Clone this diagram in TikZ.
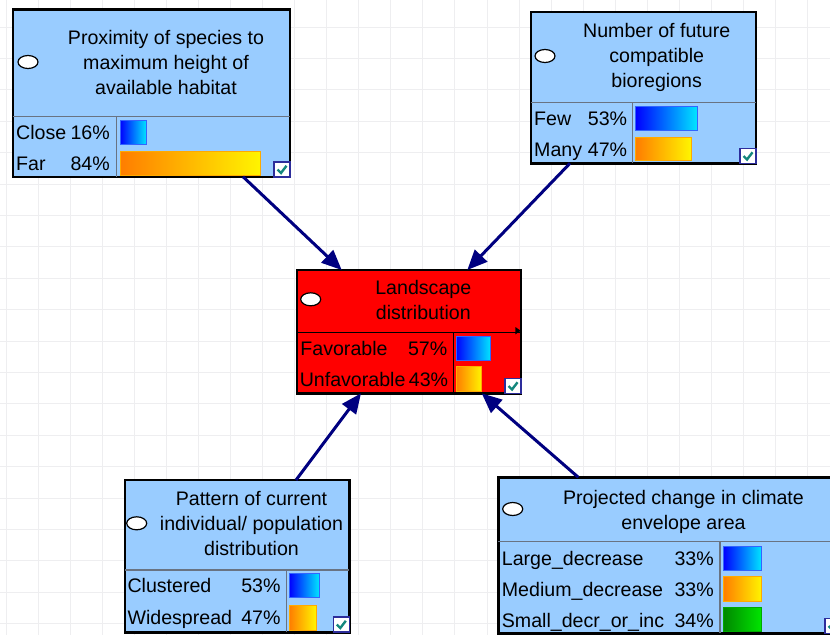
\documentclass[tikz,border=0pt]{standalone}
\usepackage{fontspec}
\setmainfont{Liberation Sans}
\usetikzlibrary{arrows.meta,calc}

\definecolor{boxblue}{RGB}{153,204,255}
\definecolor{netred}{RGB}{255,0,0}
\definecolor{linknavy}{RGB}{0,0,128}
\definecolor{gridgray}{RGB}{238,238,240}
\definecolor{sepgray}{RGB}{105,115,130}
\definecolor{checkteal}{RGB}{20,135,125}
\definecolor{checkedge}{RGB}{45,45,155}
\definecolor{blueL}{RGB}{0,0,255}
\definecolor{blueR}{RGB}{0,230,255}
\definecolor{blueEdge}{RGB}{50,100,255}
\definecolor{orangeL}{RGB}{255,125,0}
\definecolor{orangeR}{RGB}{255,245,0}
\definecolor{orangeEdge}{RGB}{255,170,0}
\definecolor{greenL}{RGB}{0,135,0}
\definecolor{greenR}{RGB}{0,230,0}
\definecolor{greenEdge}{RGB}{0,170,0}

\tikzset{
  netbox/.style={draw=black, line width=2.4pt, fill=boxblue, rectangle,
    inner sep=0pt, outer sep=0pt, anchor=north west},
  title/.style={anchor=north, align=center, inner sep=0pt},
  lbl/.style={anchor=base west, inner sep=0pt},
  pct/.style={anchor=base east, inner sep=0pt},
  divider/.style={draw=sepgray, line width=1.1pt},
  knob/.style={draw=black, fill=white, line width=1.2pt},
  bluebar/.style={left color=blueL, right color=blueR, draw=blueEdge, line width=0.8pt},
  orangebar/.style={left color=orangeL, right color=orangeR, draw=orangeEdge, line width=0.8pt},
  greenbar/.style={left color=greenL, right color=greenR, draw=greenEdge, line width=0.8pt},
  gridline/.style={draw=gridgray, line width=1pt},
  link/.style={draw=linknavy, line width=3pt, -{Triangle[length=20pt,width=17pt]}},
  tickbox/.pic={
    \draw[checkedge, fill=white, line width=1.3pt] (0,0) rectangle (16,15);
    \draw[checkteal, line width=2.4pt] (3.5,7.5) -- (7,11) -- (12.5,3.8);
  }
}

\newcommand{\ttl}{\rule{0pt}{17pt}}

\begin{document}
\begin{tikzpicture}[x=1pt, y=-1pt, font=\fontsize{19.6}{25}\selectfont]
  % canvas and grid
  \path[use as bounding box, fill=white] (0,0) rectangle (830,635);
  \clip (0,0) rectangle (830,635);
  \foreach \i in {0,...,25} {\draw[gridline] ({6+32.07*\i},0) -- ({6+32.07*\i},635);}
  \foreach \j in {0,...,19} {\draw[gridline] (0,{27+31.4*\j}) -- (830,{27+31.4*\j});}

  % ---- Proximity of species ----
  \node[netbox, minimum width=277.3pt, minimum height=167.4pt] (prox) at (12.7,9.3) {};
  \draw[divider] (12.7,116.7) -- (290,116.7);
  \draw[divider] (116.7,116.7) -- (116.7,176.7);
  \draw[knob] (28,62) ellipse [x radius=10pt, y radius=6.5pt];
  \node[title] (proxT) at (166,27) {\ttl Proximity of species to\\maximum height of\\available habitat};
  \node[lbl] (proxA) at (16,139.3) {Close};
  \node[pct] (proxAp) at (110,139.3) {16\%};
  \node[lbl] (proxB) at (16,170.6) {Far};
  \node[pct] (proxBp) at (110,170.6) {84\%};
  \shadedraw[bluebar] (120,120) rectangle (146.7,144);
  \shadedraw[orangebar] (120,151.7) rectangle (260.7,175);
  \pic at (274,162) {tickbox};

  % ---- Number of future compatible bioregions ----
  \node[netbox, minimum width=225.3pt, minimum height=151.6pt] (num) at (530.7,11.7) {};
  \draw[divider] (530.7,102.7) -- (756,102.7);
  \draw[divider] (632.7,102.7) -- (632.7,163.3);
  \draw[knob] (545,56) ellipse [x radius=10pt, y radius=6.5pt];
  \node[title] (numT) at (656.7,20.5) {\ttl Number of future\\compatible\\bioregions};
  \node[lbl] (numA) at (534,125.5) {Few};
  \node[pct] (numAp) at (627.3,125.5) {53\%};
  \node[lbl] (numB) at (534,156.3) {Many};
  \node[pct] (numBp) at (627.3,156.3) {47\%};
  \shadedraw[bluebar] (635.7,106) rectangle (697.3,130);
  \shadedraw[orangebar] (635.7,137.3) rectangle (691,160.7);
  \pic at (740,148.5) {tickbox};

  % ---- Landscape distribution ----
  \node[netbox, fill=netred, minimum width=224pt, minimum height=123.3pt] (land) at (296.7,270) {};
  \draw[black, line width=1pt] (296.7,332.3) -- (520.7,332.3);
  \draw[black, line width=1pt] (453.3,332.3) -- (453.3,393.3);
  \fill[black] (515.3,327) -- (520.7,330.7) -- (515.3,334.4) -- cycle;
  \draw[knob] (310.7,299.3) ellipse [x radius=10pt, y radius=6.5pt];
  \node[title] (landT) at (423.3,277.3) {\ttl Landscape\\distribution};
  \node[lbl] (landA) at (300.2,355.3) {Favorable};
  \node[pct] (landAp) at (447.5,355.3) {57\%};
  \node[lbl] (landB) at (299.6,386.3) {Unfavorable};
  \node[pct] (landBp) at (448.3,386.3) {43\%};
  \shadedraw[bluebar] (456,336) rectangle (490.7,360);
  \shadedraw[orangebar] (456,366.7) rectangle (481.7,391.7);
  \pic at (505,378.5) {tickbox};

  % ---- Pattern of current individual/ population distribution ----
  \node[netbox, minimum width=224.3pt, minimum height=152.3pt] (pat) at (125,480) {};
  \draw[divider] (125,570) -- (349.3,570);
  \draw[divider] (286.7,570) -- (286.7,632.3);
  \draw[knob] (136.7,523.3) ellipse [x radius=10pt, y radius=6.5pt];
  \node[title] (patT) at (251.5,488) {\ttl Pattern of current\\individual/ population\\distribution};
  \node[lbl] (patA) at (127.3,592.8) {Clustered};
  \node[pct] (patAp) at (280.7,592.8) {53\%};
  \node[lbl] (patB) at (127.3,624.8) {Widespread};
  \node[pct] (patBp) at (280.7,624.8) {47\%};
  \shadedraw[bluebar] (289.3,573.3) rectangle (319.3,597.7);
  \shadedraw[orangebar] (289.3,605) rectangle (316,630);
  \pic at (333.3,617) {tickbox};

  % ---- Projected change in climate envelope area ----
  \node[netbox, minimum width=342.7pt, minimum height=156pt] (proj) at (498.3,477.3) {};
  \draw[divider] (498.3,541.7) -- (841,541.7);
  \draw[divider] (720,541.7) -- (720,633.3);
  \draw[knob] (512.7,509) ellipse [x radius=10pt, y radius=6.5pt];
  \node[title] (projT) at (683.5,487.3) {\ttl Projected change in climate\\envelope area};
  \node[lbl] (projA) at (501.7,565.3) {Large\_decrease};
  \node[pct] (projAp) at (714,565.3) {33\%};
  \node[lbl] (projB) at (501.7,596.1) {Medium\_decrease};
  \node[pct] (projBp) at (714,596.1) {33\%};
  \node[lbl] (projC) at (501.7,627) {Small\_decr\_or\_inc};
  \node[pct] (projCp) at (714,627) {34\%};
  \shadedraw[bluebar] (723.3,546) rectangle (761.7,570);
  \shadedraw[orangebar] (723.3,576.7) rectangle (761.7,601);
  \shadedraw[greenbar] (723.3,607.7) rectangle (761.7,631.7);
  \pic at (825,618.5) {tickbox};

  % ---- influence links ----
  \draw[link] ([xshift=230.3pt]prox.south west) -- ([xshift=45pt]land.north west);
  \draw[link] ([xshift=39.3pt]num.south west) -- ([xshift=170.6pt]land.north west);
  \draw[link] ([xshift=171pt]pat.north west) -- ([xshift=64.3pt]land.south west);
  \draw[link] ([xshift=80pt]proj.north west) -- ([xshift=185pt]land.south west);
\end{tikzpicture}
\end{document}
